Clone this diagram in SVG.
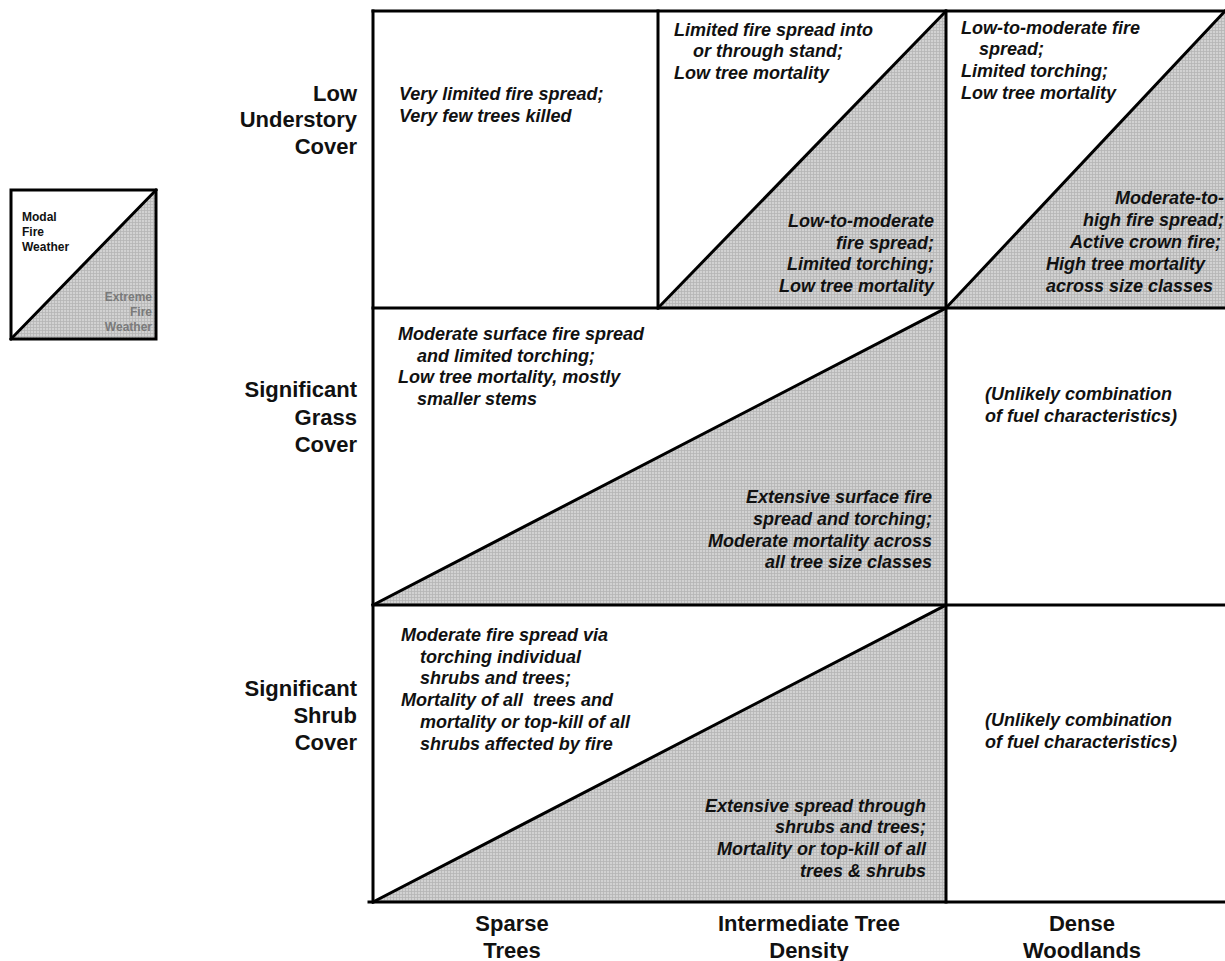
<svg xmlns="http://www.w3.org/2000/svg" width="1225" height="961" viewBox="0 0 1225 961">
<style>
.cell{font-family:"Liberation Sans",Arial,sans-serif;font-size:18px;font-weight:bold;font-style:italic;fill:#111}
.lab{font-family:"Liberation Sans",Arial,sans-serif;font-size:22px;font-weight:bold;fill:#111}
.leg{font-family:"Liberation Sans",Arial,sans-serif;font-size:12px;font-weight:bold}
.r{text-anchor:end}
.c{text-anchor:middle}
.ln{stroke:#000;stroke-width:3;fill:none;stroke-linecap:square}
.sh{fill:url(#hatch)}
</style>
<defs>
<pattern id="hatch" width="3" height="3" patternUnits="userSpaceOnUse">
<rect width="3" height="3" fill="#d2d2d2"/>
<path d="M0 0.5H3M0.5 0V3" stroke="#b5b5b5" stroke-width="0.8"/>
</pattern>
</defs>
<rect width="1225" height="961" fill="#fff"/>

<g id="legend">
<polygon class="sh" points="11,339 156,190 156,339"/>
<rect x="11" y="190" width="145" height="149" class="ln"/>
<line x1="11" y1="339" x2="156" y2="190" class="ln"/>
<text class="leg" fill="#111" x="22" y="221">Modal</text>
<text class="leg" fill="#111" x="22" y="236">Fire</text>
<text class="leg" fill="#111" x="22" y="251">Weather</text>
<text class="leg r" fill="#7a7a7a" x="152" y="301">Extreme</text>
<text class="leg r" fill="#7a7a7a" x="152" y="316">Fire</text>
<text class="leg r" fill="#7a7a7a" x="152" y="331">Weather</text>
</g>

<g id="shading">
<polygon class="sh" points="658,308 946,11 946,308"/>
<polygon class="sh" points="946,308 1225,11 1225,308"/>
<polygon class="sh" points="373,605 946,308 946,605"/>
<polygon class="sh" points="373,902 946,605 946,902"/>
</g>

<g id="connectors">
<line x1="373" y1="11" x2="1225" y2="11" class="ln"/>
<line x1="373" y1="308" x2="1225" y2="308" class="ln"/>
<line x1="373" y1="605" x2="1225" y2="605" class="ln"/>
<line x1="369" y1="902" x2="1225" y2="902" class="ln"/>
<line x1="373" y1="11" x2="373" y2="902" class="ln"/>
<line x1="658" y1="11" x2="658" y2="308" class="ln"/>
<line x1="946" y1="11" x2="946" y2="902" class="ln"/>
<line x1="658" y1="308" x2="946" y2="11" class="ln" stroke-width="5"/>
<line x1="946" y1="308" x2="1225" y2="11" class="ln"/>
<line x1="373" y1="605" x2="946" y2="308" class="ln"/>
<line x1="373" y1="902" x2="946" y2="605" class="ln"/>
</g>

<g id="row-labels">
<text class="lab r" x="357" y="101">Low</text>
<text class="lab r" x="357" y="127">Understory</text>
<text class="lab r" x="357" y="154">Cover</text>
<text class="lab r" x="357" y="397">Significant</text>
<text class="lab r" x="357" y="425">Grass</text>
<text class="lab r" x="357" y="452">Cover</text>
<text class="lab r" x="357" y="696">Significant</text>
<text class="lab r" x="357" y="723">Shrub</text>
<text class="lab r" x="357" y="750">Cover</text>
</g>

<g id="col-labels">
<text class="lab c" x="512" y="931">Sparse</text>
<text class="lab c" x="512" y="958">Trees</text>
<text class="lab c" x="809" y="931">Intermediate Tree</text>
<text class="lab c" x="809" y="958">Density</text>
<text class="lab c" x="1082" y="931">Dense</text>
<text class="lab c" x="1082" y="958">Woodlands</text>
</g>

<g id="cell-low-sparse">
<text class="cell" x="399" y="100">Very limited fire spread;</text>
<text class="cell" x="399" y="122">Very few trees killed</text>
</g>

<g id="cell-low-intermediate">
<text class="cell" x="674" y="36">Limited fire spread into</text>
<text class="cell" x="693" y="57">or through stand;</text>
<text class="cell" x="674" y="79">Low tree mortality</text>
<text class="cell r" x="934" y="227">Low-to-moderate</text>
<text class="cell r" x="934" y="249">fire spread;</text>
<text class="cell r" x="934" y="270">Limited torching;</text>
<text class="cell r" x="934" y="292">Low tree mortality</text>
</g>

<g id="cell-low-dense">
<text class="cell" x="961" y="34">Low-to-moderate fire</text>
<text class="cell" x="979" y="55">spread;</text>
<text class="cell" x="961" y="77">Limited torching;</text>
<text class="cell" x="961" y="99">Low tree mortality</text>
<text class="cell r" x="1224" y="204">Moderate-to-</text>
<text class="cell r" x="1224" y="226">high fire spread;</text>
<text class="cell r" x="1221" y="248">Active crown fire;</text>
<text class="cell" x="1046" y="270">High tree mortality</text>
<text class="cell" x="1046" y="292">across size classes</text>
</g>

<g id="cell-grass-sparse-intermediate">
<text class="cell" x="398" y="340">Moderate surface fire spread</text>
<text class="cell" x="417" y="362">and limited torching;</text>
<text class="cell" x="398" y="383">Low tree mortality, mostly</text>
<text class="cell" x="417" y="405">smaller stems</text>
<text class="cell r" x="932" y="503">Extensive surface fire</text>
<text class="cell r" x="932" y="525">spread and torching;</text>
<text class="cell r" x="932" y="547">Moderate mortality across</text>
<text class="cell r" x="932" y="568">all tree size classes</text>
</g>

<g id="cell-grass-dense">
<text class="cell" x="985" y="400">(Unlikely combination</text>
<text class="cell" x="985" y="422">of fuel characteristics)</text>
</g>

<g id="cell-shrub-sparse-intermediate">
<text class="cell" x="401" y="641">Moderate fire spread via</text>
<text class="cell" x="420" y="663">torching individual</text>
<text class="cell" x="420" y="684">shrubs and trees;</text>
<text class="cell" x="401" y="706" xml:space="preserve">Mortality of all  trees and</text>
<text class="cell" x="420" y="728">mortality or top-kill of all</text>
<text class="cell" x="420" y="750">shrubs affected by fire</text>
<text class="cell r" x="926" y="812">Extensive spread through</text>
<text class="cell r" x="926" y="833">shrubs and trees;</text>
<text class="cell r" x="926" y="855">Mortality or top-kill of all</text>
<text class="cell r" x="926" y="877">trees &amp; shrubs</text>
</g>

<g id="cell-shrub-dense">
<text class="cell" x="985" y="726">(Unlikely combination</text>
<text class="cell" x="985" y="748">of fuel characteristics)</text>
</g>
</svg>
